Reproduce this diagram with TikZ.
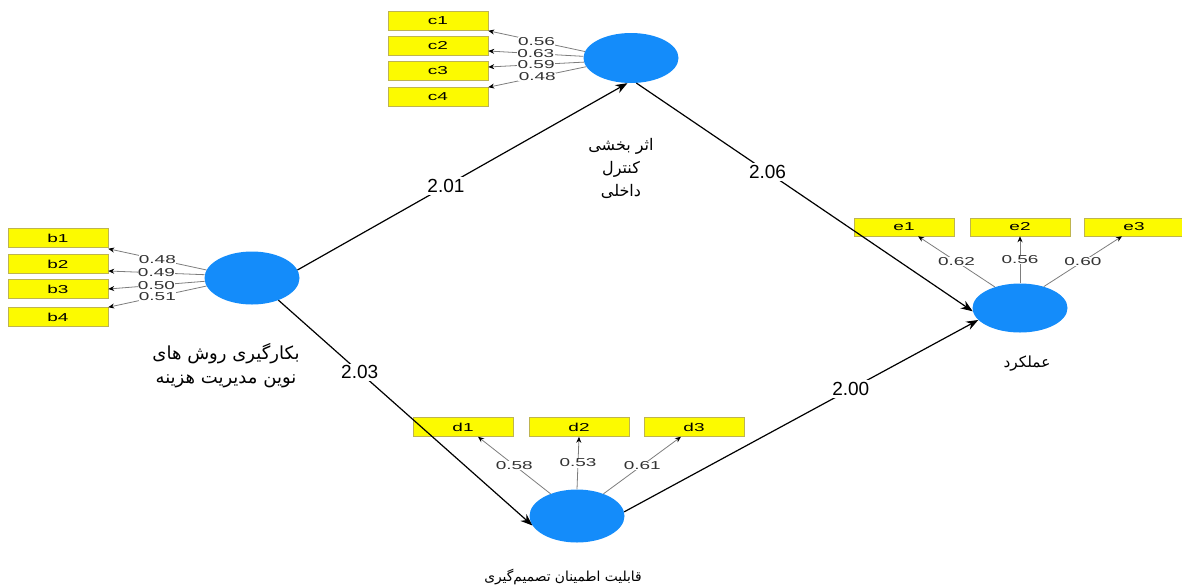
\documentclass[tikz,border=0pt]{standalone}
\usepackage{fontspec}
\setmainfont{Liberation Sans}
\newfontfamily\arabicfont[Script=Arabic]{DejaVu Sans}
\newfontfamily\widefont[FakeStretch=1.65]{Liberation Sans}
\TeXXeTstate=1
\usetikzlibrary{arrows.meta,shapes.geometric}

\definecolor{lvblue}{RGB}{20,140,250}
\definecolor{mvyellow}{RGB}{252,250,0}
\definecolor{mvedge}{RGB}{190,180,80}
\definecolor{ldgray}{RGB}{125,125,125}

\tikzset{
  latent/.style={ellipse,fill=lvblue,minimum width=95pt,minimum height=53pt,inner sep=0pt},
  indicator/.style={rectangle,fill=mvyellow,draw=mvedge,line width=0.5pt,minimum width=100pt,
    minimum height=19pt,inner sep=0pt,font=\widefont\fontsize{11.5}{12}\selectfont},
  loading/.style={draw=ldgray,line width=0.8pt,-{Stealth[black,length=6pt,width=5pt]}},
  loadval/.style={fill=white,inner sep=0.4pt,text=black!80,font=\widefont\fontsize{11.5}{12}\selectfont},
  structural/.style={draw=black,line width=1.2pt,-{Stealth[length=12pt,width=9pt]}},
  pathval/.style={fill=white,inner sep=2pt,font=\fontsize{19}{21}\selectfont},
  lvname/.style={align=center,font=\arabicfont\fontsize{#1}{23}\selectfont},
  lvname/.default=13
}

\begin{document}
\begin{tikzpicture}[x=1pt,y=-1pt]
  \useasboundingbox (0,0) rectangle (1182,587);

  % latent variables
  \node[latent] (lb) at (252,278) {};
  \node[latent,minimum height=50pt] (lc) at (631,58) {};
  \node[latent] (ld) at (577,516) {};
  \node[latent,minimum height=49pt] (le) at (1020,308) {};

  \node[lvname=18,font=\arabicfont\fontsize{18}{24}\selectfont] (lbname) at (226,366)
    {\beginR بکارگیری روش  های\endR\\\beginR نوین مدیریت هزینه\endR};
  \node[lvname=16] (lcname) at (621,168) {\beginR اثر بخشی\endR\\\beginR کنترل\endR\\\beginR داخلی\endR};
  \node[lvname=13.8] (ldname) at (563,577) {\beginR قابلیت اطمینان تصمیم‌گیری\endR};
  \node[lvname=15.3] (lename) at (1027,364) {\beginR عملکرد\endR};

  % indicators
  \node[indicator] (b1) at (58,238) {b1};
  \node[indicator] (b2) at (58,264) {b2};
  \node[indicator] (b3) at (58,289) {b3};
  \node[indicator] (b4) at (58,317) {b4};

  \node[indicator] (c1) at (438,21) {c1};
  \node[indicator] (c2) at (438,46) {c2};
  \node[indicator] (c3) at (438,71) {c3};
  \node[indicator] (c4) at (438,97) {c4};

  \node[indicator] (d1) at (463,427) {d1};
  \node[indicator] (d2) at (579,427) {d2};
  \node[indicator] (d3) at (694,427) {d3};

  \node[indicator,minimum height=18pt] (e1) at (904,227) {e1};
  \node[indicator,minimum height=18pt] (e2) at (1020,227) {e2};
  \node[indicator,minimum height=18pt] (e3) at (1134,227) {e3};

  % outer loadings
  \draw[loading] (lb.170) -- ([yshift=-1pt]b1.south east) node[loadval,pos=0.5] {0.48};
  \draw[loading] (lb.176) -- ([yshift=-7pt]b2.east) node[loadval,pos=0.5] {0.49};
  \draw[loading] (lb.184) -- (b3.east) node[loadval,pos=0.5] {0.50};
  \draw[loading] (lb.190) -- (b4.north east) node[loadval,pos=0.5] {0.51};

  \draw[loading] (lc.172) -- (c1.south east) node[loadval,pos=0.5] {0.56};
  \draw[loading] (lc.178) -- ([yshift=-5pt]c2.east) node[loadval,pos=0.5] {0.63};
  \draw[loading] (lc.185) -- ([yshift=4pt]c3.east) node[loadval,pos=0.5] {0.59};
  \draw[loading] (lc.191) -- (c4.north east) node[loadval,pos=0.5] {0.48};

  \draw[loading] (ld.140) -- ([xshift=15pt]d1.south) node[loadval,pos=0.5] {0.58};
  \draw[loading] (ld.90) -- (d2.south) node[loadval,pos=0.5] {0.53};
  \draw[loading] (ld.40) -- ([xshift=-13pt]d3.south) node[loadval,pos=0.5] {0.61};

  \draw[loading] (le.140) -- ([xshift=14pt]e1.south) node[loadval,pos=0.5] {0.62};
  \draw[loading] (le.90) -- (e2.south) node[loadval,pos=0.5] {0.56};
  \draw[loading] (le.42) -- ([xshift=-12pt]e3.south) node[loadval,pos=0.5] {0.60};

  % path coefficients
  \draw[structural] (lb.10) -- (lc.262) node[pathval,pos=0.45] {2.01};
  \draw[structural] (lc.282) -- (le.184) node[pathval,pos=0.39] {2.06};
  \draw[structural] (lb.320) -- (ld.192) node[pathval,pos=0.32] {2.03};
  \draw[structural] (ld.5) -- (le.196) node[pathval,pos=0.64] {2.00};
\end{tikzpicture}
\end{document}
